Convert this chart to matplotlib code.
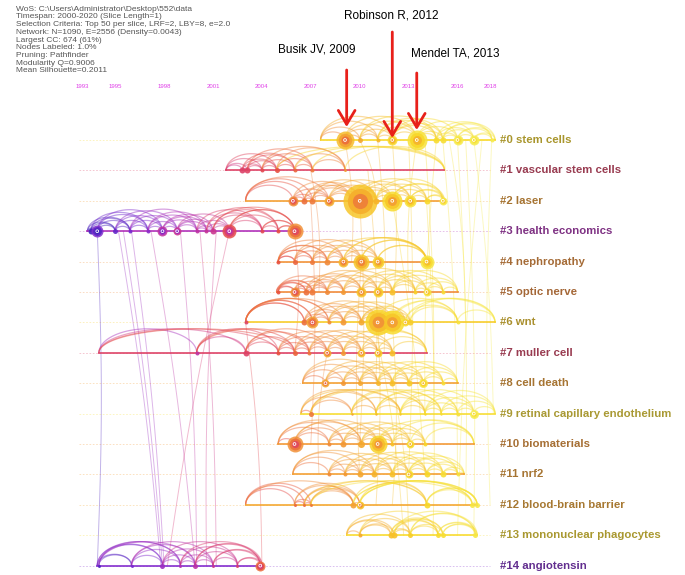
import numpy as np
import matplotlib.pyplot as plt
from matplotlib.colors import LinearSegmentedColormap, to_rgb

# Datos del timeline
cluster_labels = ['#0 stem cells', '#1 vascular stem cells', '#2 laser', '#3 health economics',
                  '#4 nephropathy', '#5 optic nerve', '#6 wnt', '#7 muller cell', '#8 cell death',
                  '#9 retinal capillary endothelium', '#10 biomaterials', '#11 nrf2',
                  '#12 blood-brain barrier', '#13 mononuclear phagocytes', '#14 angiotensin']
cluster_years = [2014, 2003, 2009.5, 1999, 2008.5, 2008, 2013, 2003, 2009.5, 2015, 2009, 2009.5, 2010, 2014.5, 1996.5]
line_start = [2007.6, 2001.8, 2003.0, 1993.3, 2005.0, 2004.9, 2003.0, 1994.0, 2006.5, 2006.4, 2005.0, 2005.9, 2003.0, 2009.2, 1993.9]
line_end = [2018.3, 2015.2, 2015.2, 2006.0, 2014.1, 2016.0, 2018.3, 2014.1, 2016.0, 2018.3, 2017.0, 2016.4, 2017.2, 2017.2, 2004.0]

node_years = [
    [2009.1, 2010.0, 2011.1, 2012.0, 2013.5, 2014.7, 2015.1, 2016.0, 2017.0, 2018.1],
    [2002.8, 2003.1, 2004.0, 2004.9, 2006.0, 2007.1, 2009.1],
    [2005.9, 2006.6, 2007.1, 2008.1, 2009.5, 2010.0, 2011.0, 2012.0, 2013.1, 2014.1, 2015.1],
    [1993.5, 1993.9, 1995.0, 1995.9, 1997.0, 1997.9, 1998.8, 2000.0, 2000.6, 2001.0, 2002.0, 2004.0, 2005.0, 2006.0],
    [2005.0, 2006.0, 2007.1, 2008.0, 2009.0, 2010.1, 2011.1, 2014.1],
    [2005.0, 2006.0, 2006.7, 2007.1, 2008.0, 2009.0, 2010.1, 2011.1, 2012.0, 2013.4, 2014.1, 2015.1],
    [2003.0, 2006.6, 2007.1, 2008.1, 2009.0, 2010.1, 2011.1, 2012.0, 2012.8, 2013.1, 2016.0],
    [2000.0, 2003.0, 2005.0, 2006.0, 2006.9, 2008.0, 2009.0, 2010.1, 2011.1, 2012.0],
    [2007.9, 2009.0, 2010.0, 2011.1, 2012.0, 2013.0, 2013.9, 2015.1],
    [2007.0, 2009.5, 2011.0, 2012.5, 2014.0, 2015.0, 2016.0, 2017.0],
    [2006.0, 2008.1, 2009.0, 2010.1, 2011.1, 2012.0, 2013.1, 2014.0],
    [2008.1, 2009.1, 2010.0, 2010.9, 2012.0, 2013.0, 2014.1, 2015.1, 2016.0],
    [2006.0, 2006.6, 2007.0, 2009.6, 2010.0, 2014.1, 2016.9, 2017.2],
    [2010.0, 2011.9, 2012.1, 2013.1, 2014.8, 2015.1, 2017.1],
    [1994.0, 1996.0, 1997.9, 1999.0, 1999.9, 2001.0, 2002.5, 2003.9],
]
node_sizes = [
    [9, 2.5, 2, 5, 10, 3, 3, 5, 5, 2],
    [3, 3, 2, 2.5, 2, 2, 1.5],
    [5, 3, 3, 5, 2, 17, 3, 10, 6, 3, 4],
    [3, 6, 2.5, 2, 2, 5, 4, 2, 2, 3, 7, 2, 2, 8],
    [2, 2.5, 2.5, 3, 5, 8, 6, 7],
    [2, 5, 3, 3, 2.5, 2.5, 5, 5, 3, 2, 4, 2],
    [2, 3, 6, 2, 3, 3, 13, 12, 4, 3, 2],
    [2, 3, 2, 2.5, 2, 4, 2.5, 4, 4, 3],
    [4, 2.5, 2.5, 2.5, 3, 3, 4.5, 2],
    [2.5, 1.2, 1.2, 1.2, 1.2, 1.2, 2, 4.5],
    [8, 2, 3, 3.5, 9, 2, 4, 2],
    [2, 2, 3, 3, 3, 4, 3, 3, 2],
    [1.5, 1.5, 1.5, 3, 4, 3, 2.5, 2.5],
    [2, 3, 3, 2.5, 2.5, 2.5, 2.5],
    [1.5, 1.5, 2.5, 1.5, 2.5, 1.5, 1.5, 5],
]

# enlaces entre clusters: (cluster, año, cluster, año)
cross_links = [
    (3, 1993.9, 14, 1993.9), (3, 1995.2, 14, 1997.8), (3, 1995.5, 14, 1997.9), (3, 1996.0, 14, 1998.0),
    (3, 1997.2, 14, 1999.9), (3, 1999.0, 14, 2000.0), (3, 2000.2, 14, 2001.2), (3, 2001.2, 14, 2000.6),
    (3, 2002.0, 14, 1998.2), (6, 2003.0, 14, 2004.0), (3, 2006.0, 7, 2006.0),
    (0, 2010.0, 2, 2011.0), (0, 2012.0, 6, 2012.0), (0, 2013.5, 5, 2013.0), (0, 2014.7, 9, 2014.0),
    (0, 2015.1, 11, 2016.0), (0, 2016.0, 12, 2016.5), (0, 2016.5, 13, 2017.0), (0, 2017.0, 9, 2018.2),
    (0, 2017.5, 13, 2016.0), (0, 2018.1, 12, 2018.0), (0, 2014.0, 10, 2014.5), (1, 2010.5, 8, 2011.0),
    (2, 2010.0, 10, 2010.0), (2, 2012.0, 11, 2014.0), (2, 2014.1, 13, 2014.5), (4, 2010.1, 11, 2010.0),
    (5, 2011.0, 12, 2011.0), (6, 2010.9, 13, 2012.7), (6, 2012.0, 12, 2012.0), (7, 2008.0, 11, 2007.5),
    (8, 2012.0, 13, 2013.0), (2, 2007.0, 10, 2007.0), (1, 2007.0, 5, 2007.5), (0, 2011.1, 7, 2011.5),
    (0, 2009.1, 4, 2009.5), (0, 2015.5, 6, 2016.5), (0, 2013.0, 11, 2013.0),
]

year_ticks = [1993, 1995, 1998, 2001, 2004, 2007, 2010, 2013, 2016, 2018]
marked_names = ['Busik JV, 2009', 'Robinson R, 2012', 'Mendel TA, 2013']
marked_years = [2009.2, 2012.0, 2013.5]

info_lines = [r'WoS: C:\Users\Administrator\Desktop\552\data',
              'Timespan: 2000-2020 (Slice Length=1)',
              'Selection Criteria: Top 50 per slice, LRF=2, LBY=8, e=2.0',
              'Network: N=1090, E=2556 (Density=0.0043)',
              'Largest CC: 674 (61%)',
              'Nodes Labeled: 1.0%',
              'Pruning: Pathfinder',
              'Modularity Q=0.9006',
              'Mean Silhouette=0.2011']

# colores por año, estilo CiteSpace
cmap_years = [1993, 1996, 1999, 2002, 2005, 2008, 2011, 2014, 2018]
cmap_cols = ['#3a22b8', '#7a2ad0', '#b030b8', '#d83a78', '#e8503e', '#f08a3a', '#f6b42a', '#f8d828', '#f6ec50']
cmap = LinearSegmentedColormap.from_list('cs', list(zip([(y - 1993) / 25 for y in cmap_years], cmap_cols)))

def col(year):
    return cmap(np.clip((year - 1993) / 25, 0, 1))

PX_YR = 16.3   # pixeles por año
PX_ROW = 30.4  # pixeles por fila

plt.rcParams['font.family'] = ['Liberation Sans', 'DejaVu Sans']
fig = plt.figure(figsize=(6.85, 5.75), dpi=100)
ax = fig.add_axes([0, 0, 1, 1])
ax.set_xlim(2001 - 213 / PX_YR, 2001 + 472 / PX_YR)
ax.set_ylim(435 / PX_ROW, -140 / PX_ROW)
ax.axis('off')

def arco(x0, x1, row, color, lw, alpha):
    span = abs(x1 - x0) * PX_YR
    h = min(0.33 * span, 24) / PX_ROW
    t = np.linspace(0, np.pi, 60)
    ax.plot(x0 + (x1 - x0) * (1 - np.cos(t)) / 2, row - h * np.sin(t), color=color, lw=lw, alpha=alpha,
            solid_capstyle='round')

# lineas punteadas de cada fila
for i in range(len(cluster_labels)):
    ax.plot([1992.8, 2018.0], [i, i], ls=(0, (2, 2)), lw=0.6, color=col(cluster_years[i]), alpha=0.35)

# enlaces entre clusters (ligeramente curvados)
for ca, ya, cb, yb in cross_links:
    t = np.linspace(0, 1, 40)
    bend = 0.25 * np.sin(np.pi * t) * (1 if yb >= ya else -1)
    ax.plot(ya + (yb - ya) * t + bend, ca + (cb - ca) * t, color=col(max(ya, yb)), lw=0.7, alpha=0.35)

# arcos dentro de cada cluster
for i in range(len(cluster_labels)):
    pts = [line_start[i]] + node_years[i] + [line_end[i]]
    for a in range(len(pts)):
        for b in range(a + 1, min(a + 5, len(pts))):
            arco(pts[a], pts[b], i, col(pts[b] - 1.5), 0.9, 0.45)

# linea de tiempo de cada cluster
for i in range(len(cluster_labels)):
    ax.plot([line_start[i], line_end[i]], [i, i], color=col(cluster_years[i]), lw=1.3, alpha=0.9)

# nodos con anillos
for i in range(len(cluster_labels)):
    for yr, r in zip(node_years[i], node_sizes[i]):
        d = (2 * r * 0.72) ** 2
        if r >= 4:
            ax.scatter(yr, i, s=d, color=col(yr + 2.5), alpha=0.85, lw=0, zorder=5)
            ax.scatter(yr, i, s=d * 0.55, color=col(yr + 0.5), alpha=0.9, lw=0, zorder=6)
            ax.scatter(yr, i, s=d * 0.2, color=col(yr - 3.0), alpha=0.8, lw=0, zorder=7)
            ax.scatter(yr, i, s=4, facecolor='none', edgecolor='white', lw=0.6, zorder=8)
        else:
            ax.scatter(yr, i, s=d, color=col(yr), alpha=0.9, lw=0, zorder=5)

# etiquetas de los clusters
for i, lab in enumerate(cluster_labels):
    c = np.array(to_rgb(col(cluster_years[i]))) * 0.6 + 0.08
    ax.text(2018.6, i, lab, fontsize=8.2, fontweight='bold', color=c, va='center', ha='left')

# eje de años
for y in year_ticks:
    ax.text(y, -53 / PX_ROW, str(y), fontsize=4.3, color='#e040e8', ha='center', va='center')

# texto de informacion
for k, t in enumerate(info_lines):
    fig.text(16 / 685, 1 - (9.3 + 7.7 * k) / 575, t, fontsize=6.0, color='#555555', va='center', ha='left')

# flechas de las referencias destacadas
text_pos = [(317, 50), (391, 16), (455, 54)]
tails = [70, 32, 73]
tips = [127, 138, 130]
for name, yr, (tx, ty), ta, tp in zip(marked_names, marked_years, text_pos, tails, tips):
    fig.text(tx / 685, 1 - ty / 575, name, fontsize=8.5, color='black', ha='center', va='center')
    ax.annotate('', xy=(yr, (tp - 140) / PX_ROW), xytext=(yr, (ta - 140) / PX_ROW),
                arrowprops=dict(arrowstyle='->, head_length=0.5, head_width=0.3', lw=2,
                                color='#e8201a', mutation_scale=20, shrinkA=0, shrinkB=0), zorder=10)

plt.savefig('out.png', dpi=100)
